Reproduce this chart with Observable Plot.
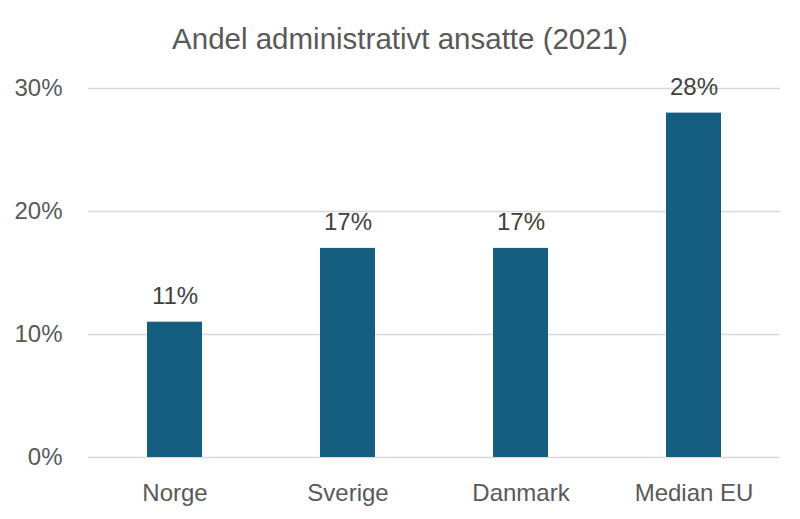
<!DOCTYPE html>
<html>
<head>
<meta charset="utf-8">
<script src="https://cdn.jsdelivr.net/npm/d3@7"></script>
<script src="https://cdn.jsdelivr.net/npm/@observablehq/plot@0.6"></script>
<style>
  body { margin: 0; background: #fff; font-family: "Liberation Sans", Arial, sans-serif; }
  #title { height: 64px; line-height: 78px; text-align: center; font-size: 29.5px; color: #595959; width: 800px; }
</style>
</head>
<body>
<div id="title">Andel administrativt ansatte (2021)</div>
<div id="chart"></div>
<script>
const categories = ["Norge", "Sverige", "Danmark", "Median EU"];
const values = [0.11, 0.17, 0.17, 0.28];
const yTicks = [0, 0.1, 0.2, 0.3];

const data = categories.map((c, i) => ({category: c, value: values[i]}));
const pct = d3.format(".0%");

const chart = Plot.plot({
  width: 800,
  height: 455,
  marginLeft: 88,
  marginRight: 20,
  marginTop: 24,
  marginBottom: 62,
  style: {fontFamily: "Liberation Sans, Arial, sans-serif", fontSize: "24px", color: "#595959", background: "#fff"},
  x: {domain: categories, paddingInner: 0.68, paddingOuter: 0.34, label: null},
  y: {domain: [0, 0.3], label: null},
  marks: [
    Plot.ruleY(yTicks, {stroke: "#d9d9d9", strokeWidth: 1.3}),
    Plot.axisY({ticks: yTicks, tickFormat: pct, tickSize: 0, tickPadding: 26, label: null, fontSize: 24}),
    Plot.axisX({tickSize: 0, tickPadding: 26, label: null, fontSize: 24}),
    Plot.barY(data, {x: "category", y: "value", fill: "#165e80"}),
    Plot.text(data, {x: "category", y: "value", text: d => pct(d.value), dy: -26, fill: "#404040", fontSize: 24})
  ]
});
document.getElementById("chart").appendChild(chart);
</script>
</body>
</html>
